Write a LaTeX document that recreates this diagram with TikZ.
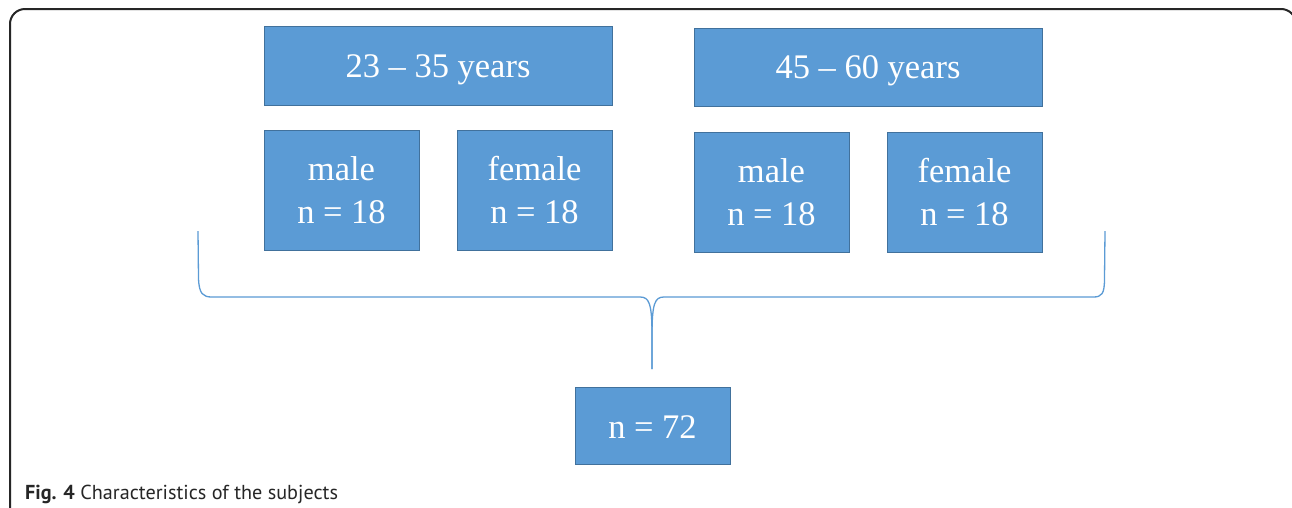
\documentclass[tikz,border=0pt]{standalone}
\usepackage{fontspec}
\setmainfont{Liberation Serif}
\newfontfamily\capfont{PT Sans}
\definecolor{boxblue}{HTML}{5B9BD5}
\definecolor{boxedge}{HTML}{41719C}
\newcommand{\lowertext}[2]{\raisebox{-#1}[\height][\depth]{#2}}
\tikzset{
  bluebox/.style={rectangle, fill=boxblue, draw=boxedge, line width=0.8pt, inner sep=0pt,
    text=white, align=center, font=\fontsize{34.5}{43}\selectfont},
  bracepath/.style={draw=boxblue, line width=1.3pt},
  framepath/.style={draw=black!85, line width=2pt, rounded corners=15pt}
}
\begin{document}
\begin{tikzpicture}[x=1pt,y=-1pt]
\useasboundingbox (0,0) rectangle (1292,507);
\clip (0,0) rectangle (1292,507);
\fill[white] (0,0) rectangle (1292,507);
% frame
\draw[framepath] (10,520) -- (10,9) -- (1296,9) -- (1296,520);
% boxes
\node[bluebox, minimum width=348pt, minimum height=79pt] (ageA) at (438,65.5) {\lowertext{4pt}{23 -- 35 years}};
\node[bluebox, minimum width=348pt, minimum height=78pt] (ageB) at (868,67) {\lowertext{4pt}{45 -- 60 years}};
\node[bluebox, minimum width=155pt, minimum height=120pt] (maleA) at (341.5,190) {male\\n = 18};
\node[bluebox, minimum width=155pt, minimum height=120pt] (femaleA) at (534.5,190) {female\\n = 18};
\node[bluebox, minimum width=155pt, minimum height=120pt] (maleB) at (771.5,192) {male\\n = 18};
\node[bluebox, minimum width=155pt, minimum height=120pt] (femaleB) at (964.5,192) {female\\n = 18};
\node[bluebox, minimum width=155pt, minimum height=77pt] (total) at (652.5,425.5) {\lowertext{2pt}{n = 72}};
% brace
\coordinate (tip) at (652,369);
\draw[bracepath] (198,231) -- (198.5,278) .. controls (199,294) and (203,297) .. (212,297)
  -- (640,297) .. controls (649,297) and (652,303) .. (652,335) -- (tip);
\draw[bracepath] (tip) -- (652,335) .. controls (652,303) and (655,297) .. (664,297)
  -- (1093,297) .. controls (1102,297) and (1104.5,294) .. (1104.5,278) -- (1105,231);
% caption
\node[anchor=base west, inner sep=0pt, font=\capfont\fontsize{20.2}{22}\selectfont, text=black!85] (cap) at (25,499) {\textbf{Fig. 4} Characteristics of the subjects};
\end{tikzpicture}
\end{document}
